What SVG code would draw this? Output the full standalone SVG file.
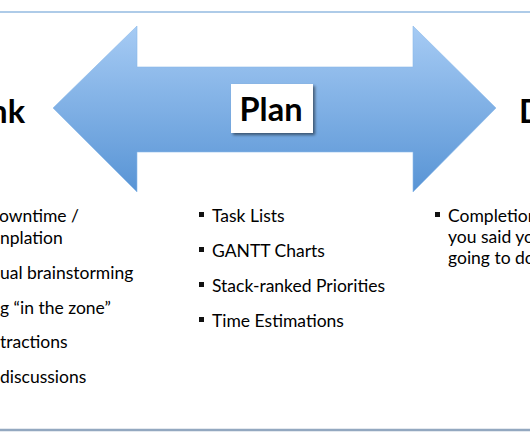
<svg xmlns="http://www.w3.org/2000/svg" width="530" height="442" viewBox="0 0 530 442">
<defs>
<linearGradient id="arrowFill" x1="0" y1="0" x2="0" y2="1">
<stop offset="0" stop-color="#a6cbf4"/>
<stop offset="1" stop-color="#5894d5"/>
</linearGradient>
<filter id="shadow" x="-20%" y="-20%" width="150%" height="150%">
<feGaussianBlur in="SourceAlpha" stdDeviation="1.5"/>
<feOffset dx="2" dy="2" result="b"/>
<feComponentTransfer><feFuncA type="linear" slope="0.5"/></feComponentTransfer>
<feMerge><feMergeNode/><feMergeNode in="SourceGraphic"/></feMerge>
</filter>
</defs>
<style>
.title{font-family:Lato,"Open Sans",sans-serif;font-weight:bold;font-size:32.5px;fill:#000}
.item{font-family:Lato,"Open Sans",sans-serif;font-size:17.5px;fill:#000}
.bullet{fill:#111}
</style>
<rect width="530" height="442" fill="#ffffff"/>
<line x1="0" y1="12" x2="530" y2="12" stroke="#aecbe8" stroke-width="2"/>
<line x1="0" y1="430" x2="530" y2="430" stroke="#93a8c0" stroke-width="2.5"/>
<g id="connectors">
<path d="M53,108 L137,26 L137,67 L413,67 L413,26 L496,108 L413,192 L413,152 L137,152 L137,192 Z" fill="url(#arrowFill)" stroke="#8ab8ea" stroke-width="0.6"/>
</g>
<g id="plan">
<rect x="231" y="84" width="82" height="49" fill="#ffffff" filter="url(#shadow)"/>
<text class="title" x="271" y="121" text-anchor="middle">Plan</text>
</g>
<g id="think">
<text class="title" x="25" y="123" text-anchor="end">nk</text>
<text class="item" x="-1" y="222">owntime /</text>
<text class="item" x="0" y="244">nplation</text>
<text class="item" x="0" y="279">ual brainstorming</text>
<text class="item" x="0" y="314">g “in the zone”</text>
<text class="item" x="0" y="348">tractions</text>
<text class="item" x="0" y="383">discussions</text>
</g>
<g id="plan-list">
<rect class="bullet" x="199" y="212" width="5" height="5"/>
<text class="item" x="212" y="222">Task Lists</text>
<rect class="bullet" x="199" y="247" width="5" height="5"/>
<text class="item" x="212" y="257">GANTT Charts</text>
<rect class="bullet" x="199" y="282" width="5" height="5"/>
<text class="item" x="212" y="292">Stack-ranked Priorities</text>
<rect class="bullet" x="199" y="317" width="5" height="5"/>
<text class="item" x="212" y="327">Time Estimations</text>
</g>
<g id="do">
<text class="title" x="519" y="123">Do</text>
<rect class="bullet" x="435" y="212" width="5" height="5"/>
<text class="item" x="448" y="222">Completion</text>
<text class="item" x="448" y="243">you said yo</text>
<text class="item" x="448" y="264">going to do</text>
</g>
</svg>
